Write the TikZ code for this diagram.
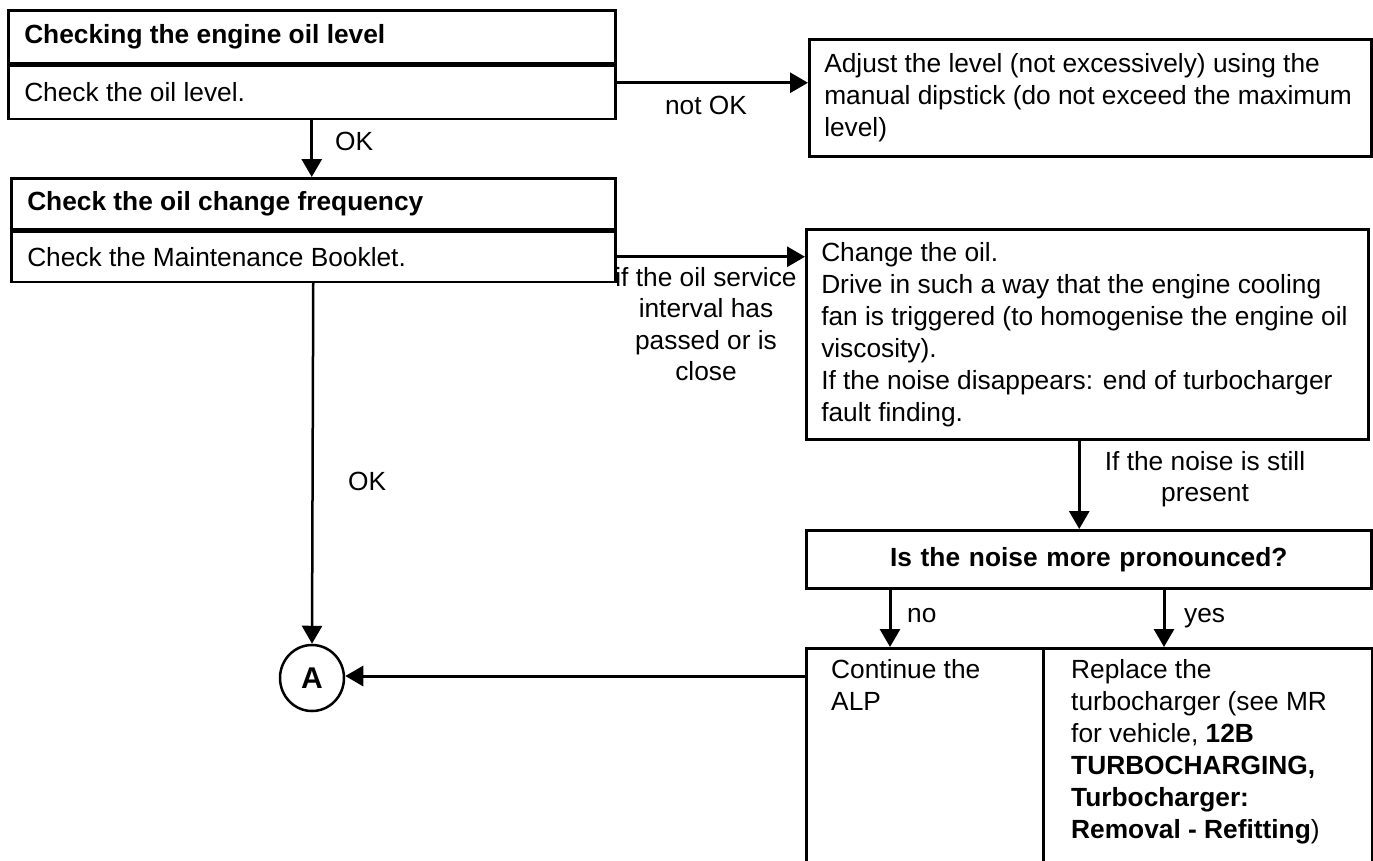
\documentclass[tikz,border=0pt]{standalone}
\usepackage{fontspec}
\setmainfont{Liberation Sans}
\usetikzlibrary{arrows.meta,calc,shapes.geometric}
\hfuzz=40pt
\begin{document}
\begin{tikzpicture}[x=1pt,y=-1pt,
  txt/.style={font=\fontsize{26.3}{32}\selectfont},
  hdr/.style={font=\fontsize{26.3}{32}\selectfont\bfseries},
  box/.style={draw, line width=2.5pt, rectangle, anchor=north west,
    inner xsep=16pt, inner ysep=0pt, align=flush left, txt},
  flow/.style={line width=3pt, -{Triangle[length=18pt,width=20pt]}},
  lbl/.style={inner sep=0pt, align=center, font=\fontsize{26.3}{31.3}\selectfont}]
\clip (0,0) rectangle (1373,860);
\fill[white] (0,0) rectangle (1373,860);

% first check: oil level
\node[box, hdr, minimum width=607pt, minimum height=53pt, text width=575pt] (h1) at (7,9)
  {Checking the engine oil level};
\node[box, minimum width=607pt, minimum height=53pt, text width=575pt] (b1) at (h1.south west)
  {Check the oil level.};

% level correction
\node[box, inner xsep=15pt, minimum width=562pt, minimum height=117pt, text width=532pt] (adj) at (808,38)
  {\mbox{Adjust the level (not excessively) using the}\\
   \mbox{manual dipstick (do not exceed the maximum}\\
   \mbox{level)}};

% second check: oil change frequency
\node[box, hdr, minimum width=604pt, minimum height=51pt, text width=572pt] (h2) at (10,177)
  {Check the oil change frequency};
\node[box, minimum width=604pt, minimum height=50pt, text width=572pt] (b2) at (h2.south west)
  {Check the Maintenance Booklet.};

% oil change
\node[box, inner xsep=15pt, minimum width=562pt, minimum height=210pt, text width=532pt] (chg) at (805,228)
  {\mbox{Change the oil.}\\
   \mbox{Drive in such a way that the engine cooling}\\
   \mbox{fan is triggered (to homogenise the engine oil}\\
   \mbox{viscosity).}\\
   \mbox{If the noise disappears: end of turbocharger}\\
   \mbox{fault finding.}};

% decision
\node[box, hdr, align=center, minimum width=565pt, minimum height=58pt, text width=533pt] (dec) at (805,529)
  {Is the noise more pronounced?};

% outcome boxes (open at the bottom edge)
\node[box, minimum width=237pt, minimum height=260pt] (cont) at (805,647) {};
\node[box, minimum width=329pt, minimum height=260pt] (repl) at (1042,647) {};
\node[anchor=north west, inner sep=0pt, align=left, txt] (contT) at ([xshift=26pt,yshift=-12pt]cont.north west)
  {Continue the\\ALP};
\node[anchor=north west, inner sep=0pt, align=left, txt] (replT) at ([xshift=29pt,yshift=-12pt]repl.north west)
  {Replace the\\turbocharger (see MR\\for vehicle, \textbf{12B}\\\textbf{TURBOCHARGING,}\\\textbf{Turbocharger:}\\\textbf{Removal - Refitting})};

% connector A
\node[draw, ellipse, line width=2.5pt, minimum width=64pt, minimum height=66pt, inner sep=0pt,
  font=\fontsize{30}{30}\selectfont\bfseries] (A) at (312,678) {A};

% connectors
\draw[flow] (b1.south) -- (b1.south |- h2.north);
\draw[flow] ([yshift=9.5pt]b1.east) -- ([yshift=9.5pt]b1.east -| adj.west);
\draw[flow] (b2.east) -- (b2.east -| chg.west);
\draw[flow] ([xshift=-8pt]chg.south) -- ([xshift=-8pt]chg.south |- dec.north);
\draw[flow] ([xshift=85pt]dec.south west) -- ([xshift=85pt]cont.north west);
\draw[flow] ([xshift=359pt]dec.south west) -- ([xshift=122pt]repl.north west);
\draw[flow, line width=2.5pt] (b2.south) -- (A.north);
\draw[flow] ([yshift=-29pt]cont.north west) -- ([yshift=-29pt]cont.north west -| A.east);

% connector labels
\node[lbl, anchor=base west] (ok1) at (335,150) {OK};
\node[lbl] (notok) at (706,105) {not OK};
\node[lbl] (svc) at (706,324) {if the oil service\\interval has\\passed or is\\close};
\node[lbl] (still) at (1205,479) {If the noise is still\\present};
\node[lbl, anchor=base west] (ok2) at (348,490) {OK};
\node[lbl, anchor=base west] (no) at (907,622) {no};
\node[lbl, anchor=base west] (yes) at (1184,622) {yes};
\end{tikzpicture}
\end{document}
